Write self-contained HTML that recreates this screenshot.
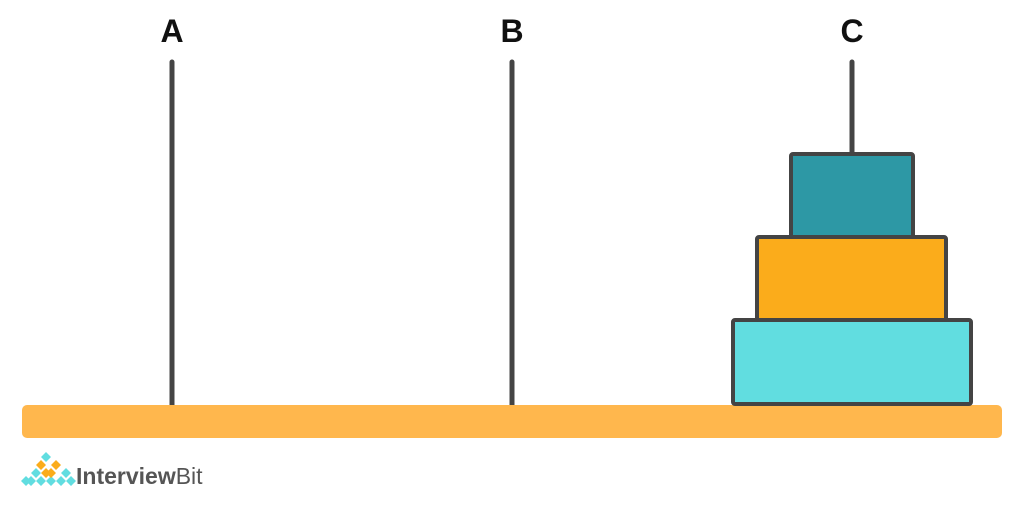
<!DOCTYPE html>
<html><head><style>body{margin:0;background:#fff;}</style></head><body>
<svg width="1024" height="500" xmlns="http://www.w3.org/2000/svg">
<rect width="1024" height="500" fill="#fff"/>
<g font-family="Liberation Sans, sans-serif" font-weight="bold" font-size="32" fill="#111" text-anchor="middle">
<text x="172" y="42">A</text><text x="512" y="42">B</text><text x="852" y="42">C</text>
</g>
<g stroke="#444" stroke-width="5" stroke-linecap="round">
<line x1="172" y1="62" x2="172" y2="406"/>
<line x1="512" y1="62" x2="512" y2="406"/>
<line x1="852" y1="62" x2="852" y2="155"/>
</g>
<rect x="22" y="405" width="980" height="33" rx="5" fill="#FFB74D"/>
<g stroke="#444" stroke-width="4" stroke-linejoin="round">
<rect x="733" y="320" width="238" height="84" rx="2" fill="#61DDE0"/>
<rect x="757" y="237" width="189" height="83" rx="2" fill="#FBAC1B"/>
<rect x="791" y="154" width="122" height="83" rx="2" fill="#2D98A5"/>
</g>
<g>
<g fill="#61DDE0">
<path d="M26 481l5-5 5 5-5 5z M36 481l5-5 5 5-5 5z M46 481l5-5 5 5-5 5z M56 481l5-5 5 5-5 5z M66 481l5-5 5 5-5 5z"/>
<path d="M21 481l5-5 5 5-5 5z"/>
<path d="M31 473l5-5 5 5-5 5z M61 473l5-5 5 5-5 5z M41 457l5-5 5 5-5 5z"/>
</g>
<g fill="#FBAC1B">
<path d="M36 465l5-5 5 5-5 5z M46 473l5-5 5 5-5 5z M41 473l5-5 5 5-5 5z M51 465l5-5 5 5-5 5z"/>
</g>
<text x="76" y="484" font-family="Liberation Sans, sans-serif" font-size="23" fill="#555"><tspan font-weight="bold">Interview</tspan>Bit</text>
</g>
</svg>
</body></html>
